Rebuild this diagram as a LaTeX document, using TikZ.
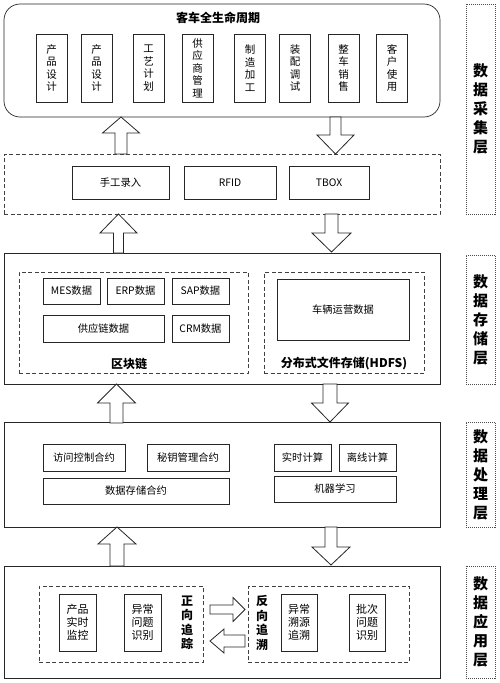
\documentclass[tikz,border=0pt]{standalone}
\usepackage{fontspec}
\setmainfont{Noto Sans CJK SC}
\begin{document}
\begin{tikzpicture}[x=1pt,y=-1pt,
  line width=0.7pt,
  every node/.style={inner sep=0pt, outer sep=0pt},
  frame/.style={draw=black!85},
  dframe/.style={draw=black!75, dash pattern=on 4pt off 2.5pt},
  lay/.style={draw=black!70, line width=0.6pt, dash pattern=on 1pt off 1pt, align=center,
    font=\fontsize{15}{19}\selectfont\bfseries},
  box/.style={draw=black!85, align=center, font=\fontsize{10.3}{12.5}\selectfont},
  vbox/.style={draw=black!85, align=center, font=\fontsize{10.5}{12.5}\selectfont},
  vbox2/.style={draw=black!85, align=center, font=\fontsize{11}{12.8}\selectfont},
  ttl/.style={align=center, font=\fontsize{12}{14.5}\selectfont\bfseries},
  blk/.style={draw=black!85, fill=white, line width=0.8pt}
]
\newcommand\blkv[6]{% cx, shaft half, head half, tip y, base y, end y
  \draw[blk] ({#1-#2},#6) -- ({#1-#2},#5) -- ({#1-#3},#5) -- (#1,#4) -- ({#1+#3},#5) -- ({#1+#2},#5) -- ({#1+#2},#6) -- cycle;}
\newcommand\blkh[6]{% cy, shaft half, head half, tip x, base x, end x
  \draw[blk] (#6,{#1-#2}) -- (#5,{#1-#2}) -- (#5,{#1-#3}) -- (#4,#1) -- (#5,{#1+#3}) -- (#5,{#1+#2}) -- (#6,{#1+#2}) -- cycle;}
\useasboundingbox (0,0) rectangle (500,683);
\fill[white] (0,0) rectangle (500,683);

% ---------- layer 1: collection ----------
\node[frame, rounded corners=16pt, minimum width=436, minimum height=113] (life) at (222,60.5) {};
\node[ttl] (lifet) at (218,18) {客车全生命周期};
\node[vbox, minimum width=31, minimum height=68] (p1) at (51.5,68) {产\\品\\设\\计};
\node[vbox, minimum width=31, minimum height=68] (p2) at (96.5,68) {产\\品\\设\\计};
\node[vbox, minimum width=31, minimum height=68] (p3) at (148.5,68) {工\\艺\\计\\划};
\node[vbox, minimum width=31, minimum height=68] (p4) at (197.5,68) {供\\应\\商\\管\\理};
\node[vbox, minimum width=31, minimum height=68] (p5) at (250,68) {制\\造\\加\\工};
\node[vbox, minimum width=31, minimum height=68] (p6) at (295,68) {装\\配\\调\\试};
\node[vbox, minimum width=31, minimum height=68] (p7) at (343.5,68) {整\\车\\销\\售};
\node[vbox, minimum width=31, minimum height=68] (p8) at (392,68) {客\\户\\使\\用};

\node[dframe, minimum width=436, minimum height=60] (coll) at (222,184) {};
\node[box, minimum width=97, minimum height=33] (c1) at (120.5,182.5) {手工录入};
\node[box, minimum width=92, minimum height=33] (c2) at (230,182.5) {RFID};
\node[box, minimum width=80, minimum height=33] (c3) at (329,182.5) {TBOX};

\blkv{121}{6}{18.5}{117}{133}{154}
\blkv{335.5}{5.5}{18.5}{154}{135}{117}

% ---------- layer 2: storage ----------
\node[frame, minimum width=436, minimum height=131] (stor) at (222,318.5) {};
\node[dframe, minimum width=229, minimum height=101] (bc) at (133.5,322.5) {};
\node[dframe, minimum width=160, minimum height=101] (hd) at (344,322.5) {};
\node[box, minimum width=57, minimum height=26] (s1) at (71.5,291) {MES数据};
\node[box, minimum width=57, minimum height=26] (s2) at (135.5,291) {ERP数据};
\node[box, minimum width=57, minimum height=26] (s3) at (200.5,291) {SAP数据};
\node[box, minimum width=121, minimum height=27] (s4) at (103.5,328.5) {供应链数据};
\node[box, minimum width=57, minimum height=27] (s5) at (200.5,328.5) {CRM数据};
\node[ttl] (bct) at (129,364) {区块链};
\node[box, minimum width=132, minimum height=61] (s6) at (343,309.5) {车辆运营数据};
\node[ttl] (hdt) at (344,364) {分布式文件存储(HDFS)};

\blkv{118.5}{5}{18.5}{214}{233}{253}
\blkv{331.5}{6.5}{19.5}{252}{233}{214}

% ---------- layer 3: processing ----------
\node[frame, minimum width=436, minimum height=105] (proc) at (222,474.5) {};
\node[box, minimum width=82, minimum height=27] (q1) at (84,457.5) {访问控制合约};
\node[box, minimum width=82, minimum height=27] (q2) at (188,457.5) {秘钥管理合约};
\node[box, minimum width=186, minimum height=26] (q3) at (136,491) {数据存储合约};
\node[box, minimum width=57, minimum height=27] (q4) at (302.5,457.5) {实时计算};
\node[box, minimum width=57, minimum height=27] (q5) at (367.5,457.5) {离线计算};
\node[box, minimum width=122, minimum height=26] (q6) at (335,489) {机器学习};

\blkv{116.5}{6.5}{19}{384}{403}{423}
\blkv{330}{7}{18.5}{422}{403}{384}

% ---------- layer 4: application ----------
\node[frame, minimum width=436, minimum height=112] (app) at (222,622) {};
\node[dframe, minimum width=164, minimum height=76] (fw) at (121,624) {};
\node[dframe, minimum width=161, minimum height=76] (bw) at (328.5,624) {};
\node[vbox2, minimum width=37, minimum height=57] (a1) at (77.5,622.5) {产品\\实时\\监控};
\node[vbox2, minimum width=37, minimum height=57] (a2) at (142.5,622.5) {异常\\问题\\识别};
\node[ttl] (fwt) at (187,623) {正\\向\\追\\踪};
\node[ttl] (bwt) at (262,623) {反\\向\\追\\溯};
\node[vbox2, minimum width=36, minimum height=57] (a3) at (299,622.5) {异常\\溯源\\追溯};
\node[vbox2, minimum width=36, minimum height=57] (a4) at (367,622.5) {批次\\问题\\识别};

\blkv{117}{7}{19}{527}{544}{566}
\blkv{331}{6}{19}{565}{547}{527}

\blkh{609.5}{4.5}{12}{245}{233}{210}
\blkh{641}{6}{12}{210}{224}{245}

% ---------- layer labels ----------
\node[lay, minimum width=29, minimum height=210] (l1) at (480.5,109) {数\\据\\采\\集\\层};
\node[lay, minimum width=29, minimum height=129] (l2) at (480.5,319.5) {数\\据\\存\\储\\层};
\node[lay, minimum width=29, minimum height=105] (l3) at (480.5,474.5) {数\\据\\处\\理\\层};
\node[lay, minimum width=29, minimum height=112] (l4) at (480.5,622) {数\\据\\应\\用\\层};
\end{tikzpicture}
\end{document}
